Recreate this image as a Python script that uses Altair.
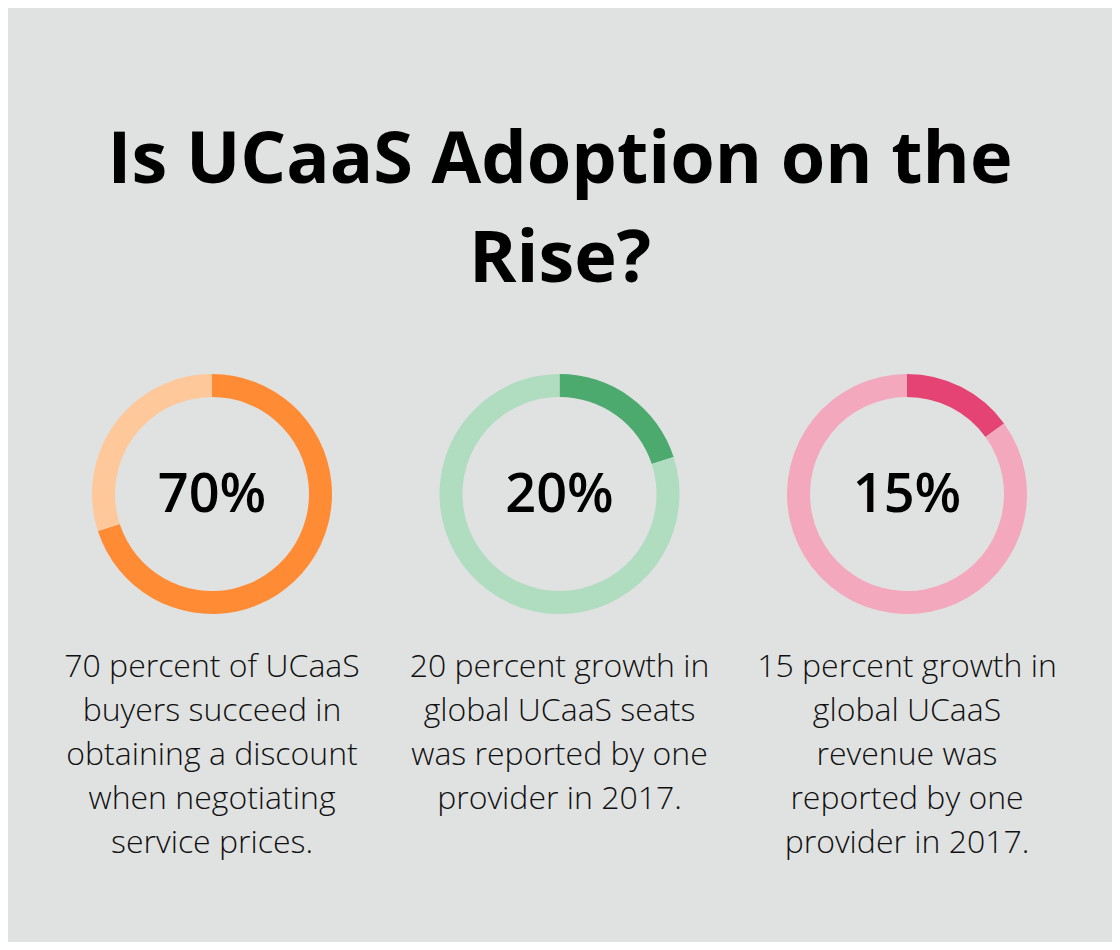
import altair as alt
import pandas as pd

# ---- data ----
categories = ["A", "B", "C"]
values = [70, 20, 15]
center_labels = ["70%", "20%", "15%"]
descriptions = [
    "70 percent of UCaaS\nbuyers succeed in\nobtaining a discount\nwhen negotiating\nservice prices.",
    "20 percent growth in\nglobal UCaaS seats\nwas reported by one\nprovider in 2017.",
    "15 percent growth in\nglobal UCaaS\nrevenue was\nreported by one\nprovider in 2017.",
]
title_lines = ["Is UCaaS Adoption on the", "Rise?"]

# ---- styles ----
strong_colors = ["#ff8c35", "#4caa6e", "#e44373"]
light_colors = ["#ffc89a", "#b0dcc0", "#f3a8bd"]
BG = "#e0e2e1"
FONT = "Open Sans"

rows = []
for c, v in zip(categories, values):
    rows.append({"cat": c, "part": "value", "v": v})
    rows.append({"cat": c, "part": "rest", "v": v})
ring_df = pd.DataFrame(rows)

color_domain = [f"{c}|value" for c in categories] + [f"{c}|rest" for c in categories]
color_range = strong_colors + light_colors

label_df = pd.DataFrame({"cat": categories, "label": center_labels, "desc": descriptions})
title_df = pd.DataFrame({"t": ["\n".join(title_lines)]})

W, H = 1104, 934
xscale = alt.Scale(domain=categories, type="point", range=[204, 899], padding=0)

rings = (
    alt.Chart(ring_df)
    .transform_calculate(
        start="datum.part == 'value' ? 0 : datum.v",
        end="datum.part == 'value' ? datum.v : 100",
        key="datum.cat + '|' + datum.part",
    )
    .mark_arc(radius=120, radius2=97, strokeWidth=0)
    .encode(
        x=alt.X("cat:N", scale=xscale, axis=None),
        y=alt.value(486),
        theta=alt.Theta("start:Q", scale=alt.Scale(domain=[0, 100], range=[0, 6.283185307179586])),
        theta2="end:Q",
        color=alt.Color("key:N", scale=alt.Scale(domain=color_domain, range=color_range), legend=None),
    )
)

centers = (
    alt.Chart(label_df)
    .mark_text(font=FONT, fontSize=54, fontWeight=600, color="#000000", baseline="alphabetic", align="center")
    .encode(x=alt.X("cat:N", scale=xscale, axis=None), y=alt.value(504), text="label:N")
)

desc = (
    alt.Chart(label_df)
    .mark_text(font=FONT, fontSize=32, fontWeight=300, color="#111111", baseline="alphabetic",
               align="center", lineBreak="\n", lineHeight=44)
    .encode(x=alt.X("cat:N", scale=xscale, axis=None), y=alt.value(669), text="desc:N")
)

title = (
    alt.Chart(title_df)
    .mark_text(font=FONT, fontSize=72, fontWeight=700, color="#000000", baseline="alphabetic",
               align="center", lineBreak="\n", lineHeight=99)
    .encode(x=alt.value(552), y=alt.value(175), text="t:N")
)

chart = (
    alt.layer(title, rings, centers, desc)
    .properties(width=W, height=H, background=BG, padding=0, autosize=alt.AutoSizeParams(type="none"))
    .configure_view(stroke=None)
)

chart.save("out.html", embed_options={"renderer": "svg", "actions": False})
